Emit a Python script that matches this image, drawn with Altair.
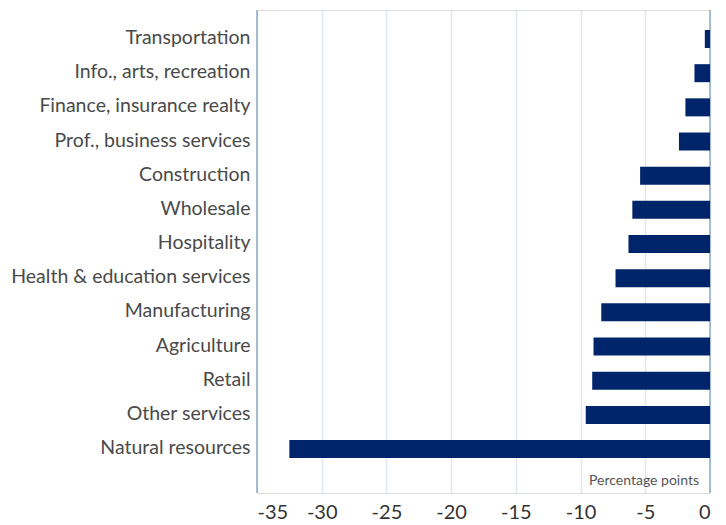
import altair as alt
import pandas as pd

categories = [
    "Transportation",
    "Info., arts, recreation",
    "Finance, insurance realty",
    "Prof., business services",
    "Construction",
    "Wholesale",
    "Hospitality",
    "Health & education services",
    "Manufacturing",
    "Agriculture",
    "Retail",
    "Other services",
    "Natural resources",
]
values = [-0.4, -1.2, -1.9, -2.4, -5.4, -6.0, -6.3, -7.3, -8.4, -9.0, -9.1, -9.6, -32.5]
edge_lines = [-35, 0]
x_ticks = [-35, -30, -25, -20, -15, -10, -5, 0]
unit_label = "Percentage points"

df = pd.DataFrame({"sector": categories, "value": values})
edges = pd.DataFrame({"x": edge_lines})

FONT = "Lato"

x_scale = alt.Scale(domain=[-35, 0], nice=False)
y_scale = alt.Scale(domain=categories, paddingInner=0.473, paddingOuter=0.804, align=0.364)

bars = alt.Chart(df).mark_bar(color="#00256a").encode(
    x=alt.X("value:Q", scale=x_scale,
            axis=alt.Axis(values=x_ticks, title=None, grid=True, gridColor="#dde6ee",
                          gridWidth=1.5, domain=False, ticks=False, labelPadding=9,
                          labelExpr="'' + datum.value",
                          labelFontSize=20, labelColor="#333333", labelFont=FONT)),
    y=alt.Y("sector:N", scale=y_scale, sort=categories,
            axis=alt.Axis(title=None, domain=False, ticks=False, labelPadding=7,
                          labelFontSize=19.5, labelColor="#4a4a4a", labelFont=FONT,
                          labelLimit=400, labelBaseline="middle", labelOffset=-1)),
)

rules = alt.Chart(edges).mark_rule(color="#8eaac6", strokeWidth=1.5).encode(
    x=alt.X("x:Q", scale=x_scale)
)

label = alt.Chart(pd.DataFrame({"t": [unit_label]})).mark_text(
    align="right", baseline="middle", font=FONT, fontSize=14, color="#555555"
).encode(
    x=alt.datum(-0.85),
    y=alt.value(471),
    text="t:N",
)

chart = alt.layer(rules, bars, label).properties(
    width=453,
    height=483,
    autosize=alt.AutoSizeParams(type="none"),
    padding={"left": 249, "top": 2, "right": 8, "bottom": 32},
).configure_view(stroke=None).configure(background="white")

chart.save("out.html", embed_options={"renderer": "svg", "actions": False})
